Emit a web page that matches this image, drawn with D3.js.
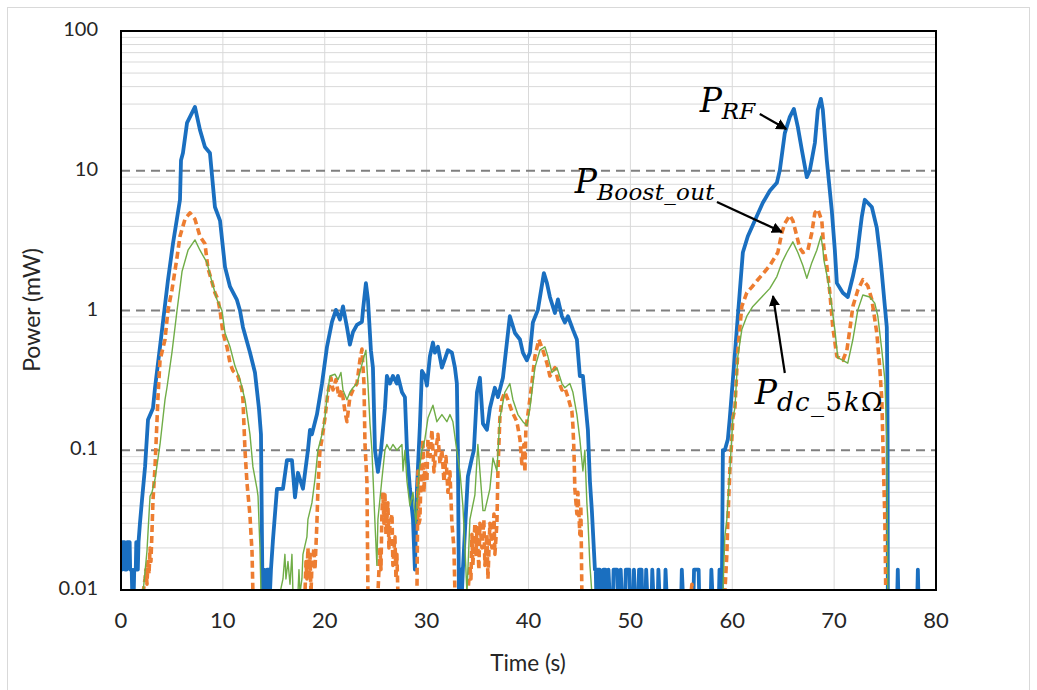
<!DOCTYPE html>
<html><head><meta charset="utf-8">
<script src="https://cdn.jsdelivr.net/npm/d3@7"></script>
<style>
body{margin:0;background:#fff;}
svg{display:block;}
</style></head><body>
<svg id="chart" width="1037" height="690"></svg>
<script>
// Axis ticks
const timeTicks = [0, 10, 20, 30, 40, 50, 60, 70, 80];
const powerTicks = [0.01, 0.1, 1, 10, 100];
const powerTickLabels = ["0.01", "0.1", "1", "10", "100"];
const dashedLevels = [0.1, 1, 10];

// Samples [time (s), power (mW)]; 0.0095 marks readings below the 0.01 mW floor
const rfSamples = [
[0,0.014],[0.1,0.014],[0.15,0.022],[0.35,0.022],[0.4,0.014],[0.55,0.014],[0.6,0.022],[0.85,0.022],[0.9,0.014],[1.05,0.014],[1.1,0.0095],[1.25,0.0095],[1.3,0.014],[1.45,0.014],[1.5,0.022],[1.6,0.022],[1.65,0.014],[1.72,0.022],
[1.86,0.03],[2.06,0.044],[2.36,0.076],[2.65,0.165],[3.14,0.2],[3.34,0.28],[3.83,0.55],[4.61,1.65],[5.10,3.0],[5.79,6.2],[5.89,11.9],[6.08,13.4],[6.48,22],[7.26,28.6],[7.75,19.6],[8.24,14.8],[8.73,13.4],[9.22,5.5],[9.72,4.4],[10.21,2.05],[10.70,1.48],[11.38,1.19],[11.68,1.0],[11.97,0.76],[12.66,0.5],[13.15,0.36],[13.54,0.2],[13.74,0.13],[13.89,0.0095],
[14.03,0.014],[14.23,0.0095],[14.33,0.014],[14.52,0.014],[14.62,0.0095],[14.72,0.014],[14.92,0.023],[15.31,0.053],[15.90,0.053],[16.29,0.085],[16.78,0.085],[17.08,0.046],[17.37,0.069],[17.86,0.053],[18.35,0.1],[18.55,0.14],[18.74,0.13],[19.23,0.18],[19.73,0.3],[20.22,0.55],[20.71,0.83],[21.10,1.01],[21.49,0.86],[21.79,1.07],[22.18,0.76],[22.47,0.57],[22.77,0.7],[23.16,0.79],[23.65,0.83],[23.75,1.0],[24.04,1.57],[24.24,1.2],[24.53,0.52],[24.73,0.39],[24.93,0.1],[25.22,0.07],[25.52,0.1],[25.91,0.2],[26.10,0.34],[26.40,0.3],[26.69,0.34],[27.08,0.3],[27.18,0.34],[27.58,0.26],[27.87,0.24],[28.07,0.1],[28.36,0.053],[28.66,0.032],[28.85,0.014],[29.05,0.053],[29.34,0.15],[29.54,0.37],[29.83,0.34],[30.03,0.29],[30.32,0.47],[30.62,0.59],[30.81,0.5],[31.11,0.55],[31.50,0.39],[31.80,0.45],[32.09,0.52],[32.48,0.5],[32.78,0.39],[32.97,0.3],[33.07,0.1],[33.17,0.0095],[33.36,0.014],[33.46,0.0095],[33.56,0.014],[34.05,0.065],[34.45,0.088],[34.64,0.1],[34.94,0.26],[35.23,0.33],[35.53,0.155],[35.92,0.14],[36.21,0.2],[36.70,0.28],[37.00,0.24],[37.49,0.33],[37.88,0.59],[38.17,0.91],[38.67,0.69],[39.16,0.62],[39.45,0.5],[39.84,0.44],[40.14,0.5],[40.43,0.82],[40.92,1.01],[41.51,1.85],[41.81,1.57],[42.10,1.25],[42.59,0.96],[42.89,1.2],[43.28,0.91],[43.57,0.82],[43.87,0.91],[44.36,0.73],[44.75,0.62],[45.04,0.34],[45.34,0.34],[45.53,0.24],[45.83,0.14],[46.03,0.06],[46.22,0.037],[46.52,0.014],
[46.6,0.014],[46.65,0.0095],[46.75,0.014],[47.0,0.014],[47.05,0.0095],[47.3,0.0095],[47.35,0.014],[47.55,0.014],[47.6,0.0095],[47.8,0.0095],[47.85,0.014],[47.95,0.0095],[48.3,0.0095],[48.35,0.014],[48.7,0.014],[48.75,0.0095],[49.0,0.0095],[49.05,0.014],[49.15,0.0095],[49.5,0.0095],[49.55,0.014],[49.9,0.014],[49.95,0.0095],[50.3,0.0095],[50.35,0.014],[50.45,0.0095],[50.8,0.0095],[50.85,0.014],[51.1,0.014],[51.15,0.0095],[51.5,0.0095],[51.55,0.014],[51.65,0.0095],[52.1,0.0095],[52.15,0.014],[52.25,0.0095],[52.7,0.0095],[52.75,0.014],[52.85,0.0095],[53.4,0.0095],[53.45,0.014],[53.55,0.0095],[55.0,0.0095],[55.05,0.014],[55.15,0.0095],[56.2,0.0095],[56.25,0.014],[56.7,0.014],[56.75,0.0095],[57.9,0.0095],[57.95,0.014],[58.05,0.0095],[58.7,0.0095],[58.75,0.014],[58.85,0.0095],[58.98,0.0095],
[59.08,0.1],[59.27,0.1],[59.57,0.12],[59.76,0.17],[60.06,0.32],[60.75,1.4],[61.04,2.6],[61.53,3.4],[62.22,4.4],[63.00,5.9],[63.69,7.2],[64.38,8.2],[64.67,10.1],[65.16,18.6],[65.65,24.3],[66.05,27.7],[66.44,20.5],[66.83,14.1],[67.32,9.0],[67.62,10.1],[68.11,15.8],[68.40,27.3],[68.70,32.7],[68.89,27.3],[69.28,11.9],[69.77,5.2],[70.07,2.7],[70.27,1.57],[70.85,1.34],[71.34,1.25],[71.84,1.75],[72.23,2.4],[72.52,3.6],[72.72,4.7],[73.01,6.2],[73.70,5.5],[74.19,3.9],[74.48,2.6],[74.68,1.86],[74.98,1.07],[75.17,0.76],[75.22,0.36],[75.25,0.12],[75.27,0.0095],
[76.2,0.0095],[76.25,0.014],[76.3,0.0095],[78.17,0.0095],[78.22,0.014],[78.27,0.0095]
];

const boostSamples = [
[2.16,0.0095],[2.36,0.012],[2.45,0.014],[2.55,0.011],[2.65,0.016],[2.75,0.013],[2.85,0.02],[2.94,0.016],[3.04,0.026],[3.14,0.044],[3.34,0.076],[3.53,0.16],[3.63,0.24],[3.83,0.44],[4.32,0.62],[4.61,1.0],[5.00,1.4],[5.50,2.4],[5.79,3.4],[6.28,4.5],[6.77,5.0],[7.26,4.5],[7.75,3.4],[8.24,3.0],[8.54,2.0],[8.93,1.6],[9.22,1.34],[9.52,1.2],[9.72,1.0],[10.01,0.69],[10.40,0.55],[10.70,0.42],[10.99,0.37],[11.48,0.34],[11.87,0.27],[11.97,0.23],[12.17,0.1],[12.37,0.058],[12.66,0.034],[12.76,0.025],[12.86,0.019],[12.95,0.0095],
[18.06,0.0095],[18.16,0.016],[18.25,0.012],[18.35,0.02],[18.45,0.013],[18.55,0.018],[18.65,0.0095],[18.74,0.015],[18.94,0.02],[19.04,0.014],[19.23,0.03],[19.33,0.053],[19.53,0.1],[19.73,0.12],[20.02,0.17],[20.31,0.26],[20.61,0.33],[20.81,0.27],[21.10,0.32],[21.39,0.24],[21.69,0.27],[21.98,0.19],[22.18,0.16],[22.47,0.24],[22.77,0.27],[23.16,0.30],[23.45,0.44],[23.65,0.53],[23.85,0.3],[23.95,0.11],[24.14,0.06],[24.24,0.0095],
[25.22,0.0095],[25.42,0.02],[25.52,0.014],[25.61,0.035],[25.71,0.05],[25.81,0.03],[25.91,0.048],[26.01,0.025],[26.20,0.042],[26.30,0.02],[26.40,0.03],[26.60,0.035],[26.69,0.015],[26.89,0.024],[26.99,0.012],[27.08,0.018],[27.18,0.0095],
[29.05,0.0095],[29.15,0.071],[29.25,0.03],[29.34,0.032],[29.44,0.06],[29.64,0.12],[29.74,0.05],[29.83,0.08],[30.03,0.06],[30.13,0.12],[30.32,0.09],[30.52,0.14],[30.72,0.07],[30.91,0.1],[31.11,0.13],[31.31,0.08],[31.50,0.1],[31.70,0.06],[31.90,0.09],[32.09,0.05],[32.29,0.07],[32.48,0.03],[32.68,0.02],[32.78,0.0095],
[34.05,0.0095],[34.25,0.015],[34.35,0.012],[34.45,0.025],[34.54,0.015],[34.74,0.03],[34.84,0.018],[34.94,0.028],[35.13,0.014],[35.23,0.03],[35.43,0.02],[35.62,0.032],[35.72,0.015],[35.92,0.025],[36.02,0.012],[36.21,0.03],[36.41,0.02],[36.61,0.035],[36.70,0.018],[36.90,0.03],[37.00,0.071],[37.19,0.17],[37.39,0.23],[37.68,0.26],[37.98,0.23],[38.37,0.19],[38.86,0.16],[39.16,0.12],[39.35,0.08],[39.55,0.11],[39.65,0.07],[39.74,0.14],[39.94,0.18],[40.33,0.3],[40.63,0.47],[41.02,0.62],[41.41,0.52],[41.81,0.42],[42.10,0.34],[42.59,0.39],[42.89,0.32],[43.28,0.27],[43.57,0.28],[43.87,0.24],[44.26,0.19],[44.36,0.15],[44.46,0.1],[44.55,0.053],[44.75,0.035],[44.85,0.05],[45.04,0.025],[45.14,0.04],[45.24,0.0095],
[55.95,0.0095],[56.04,0.011],[56.13,0.0095],
[59.17,0.0095],[59.27,0.0095],[59.47,0.018],[59.57,0.032],[59.76,0.071],[59.96,0.12],[60.06,0.17],[60.26,0.2],[60.55,0.52],[60.94,1.07],[61.43,1.34],[61.92,1.47],[62.51,1.66],[63.20,1.9],[63.69,2.1],[64.18,2.4],[64.47,2.6],[64.87,3.6],[65.16,4.2],[65.65,4.8],[65.95,4.4],[66.34,3.4],[66.63,2.8],[66.93,2.6],[67.42,2.7],[67.81,3.6],[68.11,5.0],[68.40,5.3],[68.79,4.4],[68.99,2.8],[69.28,2.1],[69.58,1.34],[69.87,0.76],[70.27,0.47],[70.85,0.44],[71.25,0.52],[71.54,0.73],[71.84,1.07],[72.33,1.4],[72.82,1.66],[73.31,1.5],[73.70,1.2],[74.19,0.69],[74.48,0.39],[74.68,0.23],[74.78,0.12],[74.88,0.06],[74.98,0.032],[75.07,0.0095]
];

const dcSamples = [
[2.16,0.0095],[2.55,0.019],[2.85,0.047],[3.04,0.05],[3.34,0.062],[3.83,0.11],[4.32,0.23],[4.51,0.28],[5.00,0.5],[5.50,1.0],[5.99,1.9],[6.58,2.7],[7.26,3.2],[7.75,2.7],[8.44,2.2],[8.93,1.6],[9.42,1.2],[9.91,1.0],[10.21,0.69],[10.70,0.55],[11.19,0.40],[11.68,0.32],[12.17,0.23],[12.66,0.13],[12.95,0.076],[13.35,0.053],[13.45,0.047],[13.64,0.02],[13.74,0.0095],
[15.60,0.0095],[15.90,0.012],[16.09,0.018],[16.19,0.012],[16.39,0.016],[16.59,0.011],[16.78,0.018],[16.88,0.0095],[17.37,0.0095],[17.47,0.014],[17.57,0.0095],[17.76,0.012],[17.86,0.018],[18.25,0.024],[18.35,0.032],[18.74,0.042],[19.04,0.062],[19.33,0.1],[19.73,0.13],[20.02,0.17],[20.22,0.24],[20.51,0.34],[21.00,0.35],[21.30,0.32],[21.59,0.36],[21.79,0.27],[22.18,0.23],[22.47,0.26],[22.77,0.28],[23.16,0.30],[23.45,0.36],[23.75,0.44],[24.04,0.52],[24.24,0.30],[24.44,0.155],[24.63,0.1],[24.93,0.03],[25.12,0.015],[25.22,0.032],[25.61,0.062],[25.91,0.1],[26.10,0.11],[26.40,0.1],[26.69,0.11],[27.08,0.1],[27.58,0.11],[27.68,0.071],[27.87,0.1],[28.07,0.06],[28.36,0.04],[28.66,0.05],[28.95,0.03],[29.25,0.07],[29.54,0.1],[29.83,0.12],[30.13,0.17],[30.62,0.21],[31.01,0.16],[31.50,0.18],[31.99,0.16],[32.29,0.18],[32.58,0.16],[32.88,0.11],[33.27,0.07],[33.56,0.04],[33.76,0.02],[33.96,0.0095],[34.25,0.032],[34.74,0.048],[35.03,0.11],[35.53,0.037],[35.72,0.037],[36.21,0.053],[36.51,0.088],[36.90,0.071],[37.19,0.17],[37.68,0.26],[38.17,0.3],[38.47,0.23],[38.96,0.18],[39.45,0.16],[39.84,0.15],[40.14,0.2],[40.63,0.39],[41.12,0.52],[41.61,0.55],[41.90,0.47],[42.30,0.36],[42.79,0.39],[43.28,0.3],[43.57,0.28],[44.06,0.3],[44.36,0.26],[44.75,0.18],[45.04,0.12],[45.34,0.071],[45.53,0.1],[45.73,0.042],[45.83,0.032],[46.03,0.015],[46.22,0.0095],
[59.08,0.0095],[59.27,0.024],[59.47,0.032],[59.76,0.071],[60.06,0.17],[60.26,0.2],[60.55,0.47],[60.94,0.73],[61.43,0.91],[62.02,1.07],[62.90,1.25],[63.69,1.44],[64.38,1.75],[64.87,2.2],[65.36,2.6],[65.95,3.1],[66.44,2.6],[66.93,2.1],[67.32,1.7],[67.81,2.2],[68.30,2.7],[68.70,3.4],[68.89,2.8],[68.99,2.3],[69.38,1.66],[69.77,1.07],[70.07,0.73],[70.36,0.46],[70.85,0.44],[71.34,0.42],[71.84,0.62],[72.33,1.01],[72.82,1.29],[73.50,1.25],[73.99,1.13],[74.29,0.91],[74.68,0.52],[74.98,0.32],[75.17,0.12],[75.27,0.0095]
];

// Callout labels: subscript pieces [text, italic], text anchor and arrow from/to in [time, power]
const callouts = [
  {sub: [["RF", true]], at: [56.8, 26.3], from: [62.7, 25.5], to: [65.3, 19.9], subSize: 23, spacing: 0},
  {sub: [["Boost_out", true]], at: [44.55, 6.93], from: [58.5, 5.97], to: [64.87, 3.65], subSize: 23, spacing: 0.3},
  {sub: [["dc_", true], ["5", false], ["k", true], ["Ω", false]], at: [62.2, 0.214], from: [65.16, 0.357], to: [64.0, 1.27], subSize: 26, spacing: 1.5}
];

const svg = d3.select("#chart");
const plot = {left: 121, right: 936, top: 31, bottom: 590};

const x = d3.scaleLinear().domain([0, 80]).range([plot.left, plot.right]);
const y = d3.scaleLog().domain([0.01, 100]).range([plot.bottom, plot.top]);

// outer chart frame
svg.append("rect").attr("x", 7.5).attr("y", 7.5).attr("width", 1022).attr("height", 700)
  .attr("fill", "#fff").attr("stroke", "#d9d9d9").attr("stroke-width", 1);

const grid = svg.append("g");
// minor log gridlines
const minor = [];
[0.01, 0.1, 1, 10].forEach(d => { for (let k = 2; k <= 9; k++) minor.push(d * k); });
grid.selectAll("line.minor").data(minor).join("line")
  .attr("x1", plot.left).attr("x2", plot.right)
  .attr("y1", d => y(d)).attr("y2", d => y(d))
  .attr("stroke", "#d9d9d9").attr("stroke-width", 1);
// vertical gridlines
grid.selectAll("line.vx").data(timeTicks.slice(1, -1)).join("line")
  .attr("x1", d => x(d)).attr("x2", d => x(d))
  .attr("y1", plot.top).attr("y2", plot.bottom)
  .attr("stroke", "#d9d9d9").attr("stroke-width", 1);
// decade gridlines
grid.selectAll("line.major").data(dashedLevels).join("line")
  .attr("x1", plot.left).attr("x2", plot.right)
  .attr("y1", d => y(d)).attr("y2", d => y(d))
  .attr("stroke", "#7f7f7f").attr("stroke-width", 2.2)
  .attr("stroke-dasharray", "9,6");

svg.append("clipPath").attr("id", "plotClip").append("rect")
  .attr("x", plot.left).attr("y", plot.top)
  .attr("width", plot.right - plot.left).attr("height", plot.bottom - plot.top);

const line = d3.line().x(d => x(d[0])).y(d => y(d[1]));
const series = svg.append("g").attr("clip-path", "url(#plotClip)");

series.append("path").datum(rfSamples).attr("d", line)
  .attr("fill", "none").attr("stroke", "#1a6fc0").attr("stroke-width", 3.8)
  .attr("stroke-linejoin", "round");
series.append("path").datum(boostSamples).attr("d", line)
  .attr("fill", "none").attr("stroke", "#ed7d31").attr("stroke-width", 3.6)
  .attr("stroke-dasharray", "7,4").attr("stroke-linejoin", "round");
series.append("path").datum(dcSamples).attr("d", line)
  .attr("fill", "none").attr("stroke", "#70ad47").attr("stroke-width", 1.4)
  .attr("stroke-linejoin", "round");

// plot frame
svg.append("rect").attr("x", plot.left).attr("y", plot.top)
  .attr("width", plot.right - plot.left).attr("height", plot.bottom - plot.top)
  .attr("fill", "none").attr("stroke", "#000").attr("stroke-width", 2);

// tick labels
const tickFont = "Lato, 'Open Sans', sans-serif";
svg.append("g").selectAll("text").data(timeTicks).join("text")
  .attr("x", d => x(d)).attr("y", 622)
  .attr("text-anchor", "middle").attr("dominant-baseline", "middle")
  .attr("font-family", tickFont).attr("font-size", 22).attr("fill", "#262626")
  .text(d => d);
svg.append("g").selectAll("text").data(powerTicks).join("text")
  .attr("x", 98).attr("y", d => y(d))
  .attr("text-anchor", "end").attr("dominant-baseline", "middle")
  .attr("font-family", tickFont).attr("font-size", 20).attr("fill", "#262626")
  .text((d, i) => powerTickLabels[i]);

// axis titles
svg.append("text").attr("transform", "translate(34,310) rotate(-90)")
  .attr("text-anchor", "middle").attr("dominant-baseline", "middle")
  .attr("font-family", tickFont).attr("font-size", 23).attr("fill", "#262626")
  .text("Power (mW)");
svg.append("text").attr("x", 528).attr("y", 665)
  .attr("text-anchor", "middle").attr("dominant-baseline", "middle")
  .attr("font-family", tickFont).attr("font-size", 22.5).attr("fill", "#262626")
  .text("Time (s)");

// callouts
svg.append("defs").append("marker").attr("id", "arrowHead")
  .attr("viewBox", "0 0 10 10").attr("refX", 9).attr("refY", 5)
  .attr("markerWidth", 5).attr("markerHeight", 5).attr("orient", "auto")
  .append("path").attr("d", "M0,0 L10,5 L0,10 z").attr("fill", "#000");

const notes = svg.append("g");
callouts.forEach(c => {
  notes.append("line")
    .attr("x1", x(c.from[0])).attr("y1", y(c.from[1]))
    .attr("x2", x(c.to[0])).attr("y2", y(c.to[1]))
    .attr("stroke", "#000").attr("stroke-width", 2.2)
    .attr("marker-end", "url(#arrowHead)");
  const t = notes.append("text")
    .attr("x", x(c.at[0])).attr("y", y(c.at[1]))
    .attr("font-family", "'DejaVu Serif', serif").attr("fill", "#000");
  t.append("tspan").attr("font-size", 33).attr("font-style", "italic").text("P");
  c.sub.forEach((piece, i) => {
    t.append("tspan").attr("font-size", c.subSize)
      .attr("font-style", piece[1] ? "italic" : "normal")
      .attr("dy", i === 0 ? 7 : 0)
      .attr("letter-spacing", c.spacing).text(piece[0]);
  });
});
</script></body></html>
